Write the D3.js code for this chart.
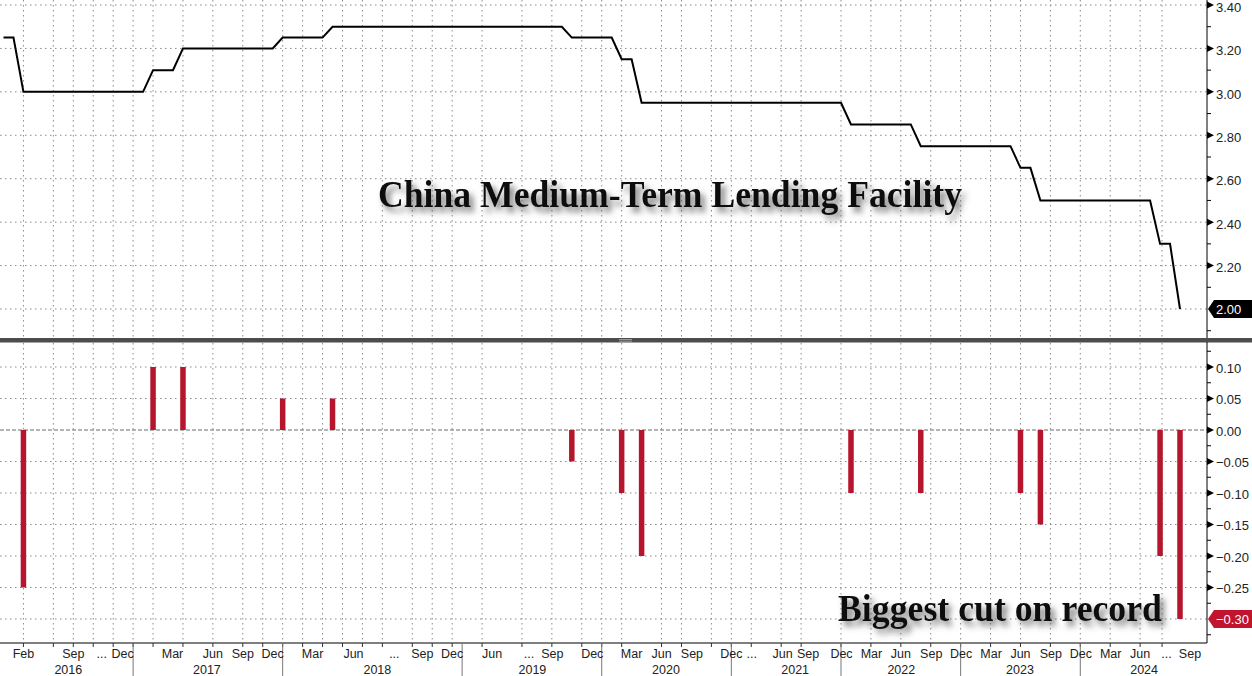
<!DOCTYPE html>
<html><head><meta charset="utf-8">
<script src="https://cdn.jsdelivr.net/npm/d3@7"></script>
<style>
html,body{margin:0;padding:0;background:#fff;}
svg{display:block;}
</style></head><body>
<svg id="chart" width="1252" height="676"></svg>
<script>
// ---- DATA (one entry per observation, equally spaced on the x axis) ----
const mlfRate = [
  3.25,3.25,3.00,3.00,3.00,3.00,3.00,3.00,3.00,3.00,
  3.00,3.00,3.00,3.00,3.00,3.10,3.10,3.10,3.20,3.20,
  3.20,3.20,3.20,3.20,3.20,3.20,3.20,3.20,3.25,3.25,
  3.25,3.25,3.25,3.30,3.30,3.30,3.30,3.30,3.30,3.30,
  3.30,3.30,3.30,3.30,3.30,3.30,3.30,3.30,3.30,3.30,
  3.30,3.30,3.30,3.30,3.30,3.30,3.30,3.25,3.25,3.25,
  3.25,3.25,3.15,3.15,2.95,2.95,2.95,2.95,2.95,2.95,
  2.95,2.95,2.95,2.95,2.95,2.95,2.95,2.95,2.95,2.95,
  2.95,2.95,2.95,2.95,2.95,2.85,2.85,2.85,2.85,2.85,
  2.85,2.85,2.75,2.75,2.75,2.75,2.75,2.75,2.75,2.75,
  2.75,2.75,2.65,2.65,2.50,2.50,2.50,2.50,2.50,2.50,
  2.50,2.50,2.50,2.50,2.50,2.50,2.30,2.30,2.00
];
const mlfChange = [
  0,0,-0.25,0,0,0,0,0,0,0,
  0,0,0,0,0,0.10,0,0,0.10,0,
  0,0,0,0,0,0,0,0,0.05,0,
  0,0,0,0.05,0,0,0,0,0,0,
  0,0,0,0,0,0,0,0,0,0,
  0,0,0,0,0,0,0,-0.05,0,0,
  0,0,-0.10,0,-0.20,0,0,0,0,0,
  0,0,0,0,0,0,0,0,0,0,
  0,0,0,0,0,-0.10,0,0,0,0,
  0,0,-0.10,0,0,0,0,0,0,0,
  0,0,-0.10,0,-0.15,0,0,0,0,0,
  0,0,0,0,0,0,-0.20,0,-0.30
];
const rateTicks = [2.00,2.20,2.40,2.60,2.80,3.00,3.20,3.40];
const rateMinor = [1.90,2.10,2.30,2.50,2.70,2.90,3.10,3.30];
const changeTicks = [-0.30,-0.25,-0.20,-0.15,-0.10,-0.05,0.00,0.05,0.10];
const changeMinor = [-0.325,-0.275,-0.225,-0.175,-0.125,-0.075,-0.025,0.025,0.075,0.125];
// month tick labels and the observation position they sit on
const monthLabels = ["Feb","Sep","...","Dec","Mar","Jun","Sep","Dec","Mar","Jun","...","Sep","Dec",
  "Jun","...","Sep","Dec","Mar","Jun","Sep","Dec","...","Jun","Sep","Dec","Mar","Jun","Sep","Dec",
  "Mar","Jun","Sep","Dec","Mar","Jun","...","Sep"];
const monthPos = [2,7,9.85,11.95,16.95,21,24,27,31,35.1,39.2,42,45,
  49,52.7,55.05,59.05,63,66,69.05,73,75.05,78.15,80.7,84.05,87.05,90,93.05,96.05,
  99.05,102,105.05,108.05,111.05,114,116.65,119];
const yearLabels = ["2016","2017","2018","2019","2020","2021","2022","2023","2024"];
const yearLabelPos = [6.5,20.4,37.5,53.05,66.45,79.4,90.05,101.95,114.4];
const yearBreaks = [13,28,46,60,73,84,96,108];
const gridPos = [2,5,7,9,11,13,15,18,21,24,26,28,30,32,34,36,38,41,43,45,48,52,55,58,60,62,66,68,71,73,75,78,80,
  84,87,90,93,96,99,102,105,108,111,114,116.2];

// ---- LAYOUT ----
const svg = d3.select("#chart");
const W = 1252, H = 676, axisX = 1207;
const topPanel = {y0: 0, y1: 338};
const botPanel = {y0: 343, y1: 643};
const x = d3.scaleLinear().domain([0, mlfRate.length - 1]).range([3.5, 1180]);
const yTop = d3.scaleLinear().domain([2.0, 3.4]).range([309, 5]);
const yBot = d3.scaleLinear().domain([-0.30, 0.10]).range([619, 367]);
const fmt = d3.format(".2f");
const gridColor = "#8a8a8a";
const sans = "'Liberation Sans', Arial, sans-serif";

const defs = svg.append("defs");
const f = defs.append("filter").attr("id","shadow").attr("x","-5%").attr("y","-40%").attr("width","115%").attr("height","200%");
f.append("feDropShadow").attr("dx",4).attr("dy",5).attr("stdDeviation",3)
  .attr("flood-color","#555").attr("flood-opacity",0.8);

svg.append("rect").attr("width",W).attr("height",H).attr("fill","#fff");

// horizontal grids
const g = svg.append("g");
g.selectAll(".hgt").data(rateTicks).join("line")
  .attr("x1",0).attr("x2",axisX).attr("y1",d=>yTop(d)).attr("y2",d=>yTop(d))
  .attr("stroke",gridColor).attr("stroke-dasharray","1.5,3.5");
g.selectAll(".hgb").data(changeTicks.filter(d=>d!==0)).join("line")
  .attr("x1",0).attr("x2",axisX).attr("y1",d=>yBot(d)).attr("y2",d=>yBot(d))
  .attr("stroke",gridColor).attr("stroke-dasharray","1.5,3.5");
// vertical grids
[topPanel, botPanel].forEach(p => {
  g.append("g").selectAll("line").data(gridPos).join("line")
    .attr("x1",d=>x(d)).attr("x2",d=>x(d)).attr("y1",p.y0).attr("y2",p.y1)
    .attr("stroke",gridColor).attr("stroke-dasharray","1.5,3.5");
});
// zero line
svg.append("line").attr("x1",0).attr("x2",axisX).attr("y1",yBot(0)).attr("y2",yBot(0))
  .attr("stroke","#6a6a6a").attr("stroke-dasharray","4,2");

// bars
svg.append("g").selectAll("rect").data(mlfChange.map((v,i)=>({i,v})).filter(d=>d.v!==0)).join("rect")
  .attr("x",d=>x(d.i)-2.75).attr("width",5.5)
  .attr("y",d=>Math.min(yBot(d.v),yBot(0))).attr("height",d=>Math.abs(yBot(d.v)-yBot(0)))
  .attr("fill","#b5162e");

// line
svg.append("path").datum(mlfRate)
  .attr("d", d3.line().x((d,i)=>x(i)).y(d=>yTop(d)))
  .attr("fill","none").attr("stroke","#000").attr("stroke-width",2).attr("stroke-linejoin","miter");

// panel separator
svg.append("rect").attr("x",0).attr("y",338).attr("width",W).attr("height",4.5).attr("fill","#4d4d4d");
svg.append("line").attr("x1",619).attr("x2",632).attr("y1",339.5).attr("y2",339.5).attr("stroke","#9a9a9a");
svg.append("line").attr("x1",619).attr("x2",632).attr("y1",341.2).attr("y2",341.2).attr("stroke","#9a9a9a");

// right axes
const ax = svg.append("g");
ax.append("line").attr("x1",axisX).attr("x2",axisX).attr("y1",0).attr("y2",338).attr("stroke","#000");
ax.append("line").attr("x1",axisX).attr("x2",axisX).attr("y1",342).attr("y2",643).attr("stroke","#000");
function tri(y){ return `M${axisX},${y-3.5}L${axisX+7},${y}L${axisX},${y+3.5}Z`; }
ax.selectAll(".tt").data(rateTicks.filter(d=>d!==2.0)).join("path").attr("d",d=>tri(yTop(d))).attr("fill","#000");
ax.selectAll(".tb").data(changeTicks.filter(d=>d!==-0.30)).join("path").attr("d",d=>tri(yBot(d))).attr("fill","#000");
ax.selectAll(".mt").data(rateMinor).join("line").attr("x1",axisX).attr("x2",axisX+4)
  .attr("y1",d=>yTop(d)).attr("y2",d=>yTop(d)).attr("stroke","#000");
ax.selectAll(".mb").data(changeMinor).join("line").attr("x1",axisX).attr("x2",axisX+4)
  .attr("y1",d=>yBot(d)).attr("y2",d=>yBot(d)).attr("stroke","#000");
ax.selectAll(".lt").data(rateTicks.filter(d=>d!==2.0)).join("text")
  .attr("x",axisX+9).attr("y",d=>yTop(d)).attr("dy","0.52em").text(d=>fmt(d))
  .attr("font-family",sans).attr("font-size",13).attr("fill","#222");
ax.selectAll(".lb").data(changeTicks.filter(d=>d!==-0.30)).join("text")
  .attr("x",axisX+9).attr("y",d=>yBot(d)).attr("dy","0.45em").text(d=>fmt(d))
  .attr("font-family",sans).attr("font-size",13).attr("fill","#222");

// last value boxes
function lastBox(yc, fill, label){
  ax.append("path").attr("d",`M${axisX+1},${yc}L${axisX+7},${yc-9}L${W},${yc-9}L${W},${yc+9}L${axisX+7},${yc+9}Z`).attr("fill",fill);
  ax.append("text").attr("x",axisX+9).attr("y",yc).attr("dy","0.36em").text(label)
    .attr("font-family",sans).attr("font-size",13).attr("fill","#fff");
}
lastBox(yTop(mlfRate[mlfRate.length-1]), "#000", fmt(mlfRate[mlfRate.length-1]));
lastBox(yBot(mlfChange[mlfChange.length-1]), "#c0142f", fmt(mlfChange[mlfChange.length-1]));

// x axis
const xa = svg.append("g");
xa.append("line").attr("x1",0).attr("x2",axisX).attr("y1",643).attr("y2",643).attr("stroke","#000");
xa.selectAll(".xt").data(gridPos).join("line").attr("x1",d=>x(d)).attr("x2",d=>x(d))
  .attr("y1",643).attr("y2",647).attr("stroke","#333");
xa.selectAll(".yb").data(yearBreaks).join("line").attr("x1",d=>x(d)).attr("x2",d=>x(d))
  .attr("y1",643).attr("y2",H).attr("stroke","#777");
xa.selectAll(".ml").data(monthLabels).join("text")
  .attr("x",(d,i)=>x(monthPos[i])).attr("y",658).attr("text-anchor","middle").text(d=>d)
  .attr("font-family",sans).attr("font-size",12.5).attr("fill","#222");
xa.selectAll(".yl").data(yearLabels).join("text")
  .attr("x",(d,i)=>x(yearLabelPos[i])).attr("y",674).attr("text-anchor","middle").text(d=>d)
  .attr("font-family",sans).attr("font-size",12.5).attr("fill","#222");

// annotations
const serif = "'Liberation Serif', 'DejaVu Serif', serif";
svg.append("text").attr("x",378).attr("y",207).text("China Medium-Term Lending Facility")
  .attr("font-family",serif).attr("font-weight","bold").attr("font-size",38)
  .attr("textLength",584).attr("lengthAdjust","spacingAndGlyphs")
  .attr("fill","#111").attr("filter","url(#shadow)");
svg.append("text").attr("x",838).attr("y",621).text("Biggest cut on record")
  .attr("font-family",serif).attr("font-weight","bold").attr("font-size",38)
  .attr("textLength",324).attr("lengthAdjust","spacingAndGlyphs")
  .attr("fill","#111").attr("filter","url(#shadow)");
</script>
</body></html>
